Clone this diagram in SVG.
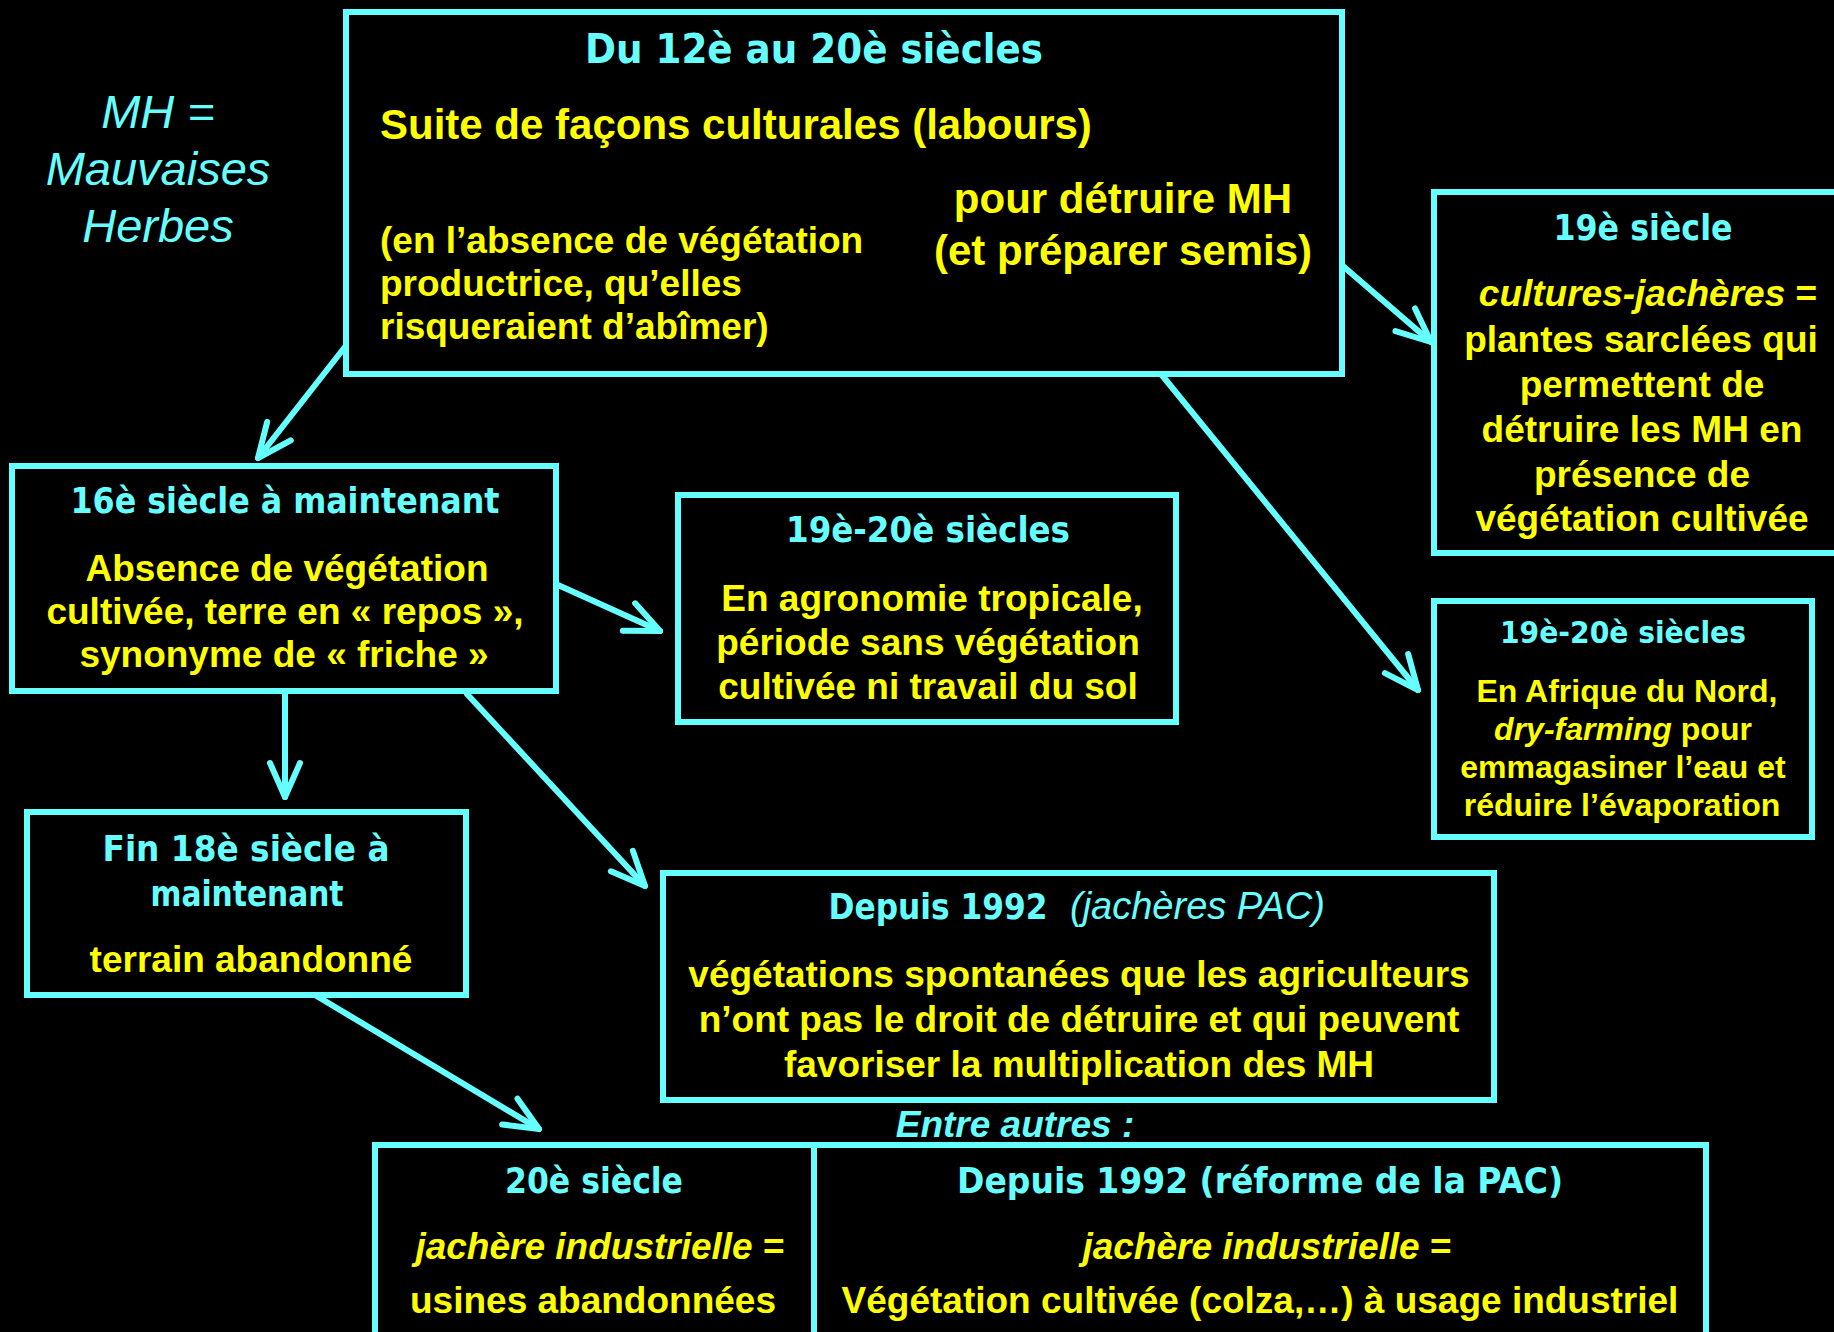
<svg xmlns="http://www.w3.org/2000/svg" width="1834" height="1332" viewBox="0 0 1834 1332">
<defs>
<style>
.box{fill:#000;stroke:#66FFFF;stroke-width:6}
.t{font-family:"DejaVu Sans Condensed","DejaVu Sans",sans-serif;font-weight:bold;fill:#66FFFF;text-anchor:middle}
.y{font-family:"Liberation Sans",Arial,sans-serif;font-weight:bold;fill:#FFFF00}
.c{text-anchor:middle}
.i{font-style:italic}
.cy{font-family:"Liberation Sans",Arial,sans-serif;fill:#66FFFF}
.con{stroke:#66FFFF;stroke-width:6;fill:none;stroke-linecap:round}
</style>
<marker id="ah" markerUnits="userSpaceOnUse" orient="auto" refX="0" refY="0" markerWidth="60" markerHeight="60" overflow="visible">
<path d="M -34 -15 L 0 0 L -34 15" fill="none" stroke="#66FFFF" stroke-width="6" stroke-linecap="round" stroke-linejoin="round"/>
</marker>
</defs>
<rect x="0" y="0" width="1834" height="1332" fill="#000"/>

<g id="legend">
<text class="cy i" font-size="47" text-anchor="middle" x="158" y="128">MH =</text>
<text class="cy i" font-size="47" text-anchor="middle" x="158" y="185">Mauvaises</text>
<text class="cy i" font-size="47" text-anchor="middle" x="158" y="242">Herbes</text>
</g>

<g id="connectors">
<line class="con" x1="359" y1="329" x2="258" y2="458" marker-end="url(#ah)"/>
<line class="con" x1="1329" y1="254" x2="1431" y2="342" marker-end="url(#ah)"/>
<line class="con" x1="1161" y1="374" x2="1418" y2="690" marker-end="url(#ah)"/>
<line class="con" x1="558" y1="585" x2="660" y2="631" marker-end="url(#ah)"/>
<line class="con" x1="285" y1="694" x2="285" y2="797" marker-end="url(#ah)"/>
<line class="con" x1="467" y1="694" x2="645" y2="886" marker-end="url(#ah)"/>
<line class="con" x1="315" y1="995" x2="539" y2="1129" marker-end="url(#ah)"/>
</g>

<g id="main">
<rect class="box" x="346" y="12" width="996" height="362"/>
<text class="t" font-size="40" x="814" y="63" textLength="458" lengthAdjust="spacingAndGlyphs">Du 12è au 20è siècles</text>
<text class="y" font-size="42" x="380" y="139">Suite de façons culturales (labours)</text>
<text class="y c" font-size="42" x="1123" y="213">pour détruire MH</text>
<text class="y c" font-size="42" x="1123" y="265">(et préparer semis)</text>
<text class="y" font-size="37" x="380" y="253">(en l’absence de végétation</text>
<text class="y" font-size="37" x="380" y="296">productrice, qu’elles</text>
<text class="y" font-size="37" x="380" y="339">risqueraient d’abîmer)</text>
</g>

<g id="n16">
<rect class="box" x="12" y="466" width="544" height="225"/>
<text class="t" font-size="36" x="285" y="513" textLength="429" lengthAdjust="spacingAndGlyphs">16è siècle à maintenant</text>
<text class="y c" font-size="37" x="287" y="581">Absence de végétation</text>
<text class="y c" font-size="37" x="285" y="624">cultivée, terre en « repos »,</text>
<text class="y c" font-size="37" x="284" y="667">synonyme de « friche »</text>
</g>

<g id="agro">
<rect class="box" x="678" y="495" width="498" height="227"/>
<text class="t" font-size="36" x="928" y="542" textLength="284" lengthAdjust="spacingAndGlyphs">19è-20è siècles</text>
<text class="y c" font-size="37" x="932" y="611">En agronomie tropicale,</text>
<text class="y c" font-size="37" x="928" y="655">période sans végétation</text>
<text class="y c" font-size="37" x="928" y="699">cultivée ni travail du sol</text>
</g>

<g id="n19">
<rect class="box" x="1434" y="192" width="420" height="361"/>
<text class="t" font-size="36" x="1643" y="240" textLength="179" lengthAdjust="spacingAndGlyphs">19è siècle</text>
<text class="y c" font-size="37" x="1648" y="306"><tspan class="i">cultures-jachères</tspan> =</text>
<text class="y c" font-size="37" x="1641" y="352">plantes sarclées qui</text>
<text class="y c" font-size="37" x="1642" y="397">permettent de</text>
<text class="y c" font-size="37" x="1642" y="442">détruire les MH en</text>
<text class="y c" font-size="37" x="1642" y="487">présence de</text>
<text class="y c" font-size="37" x="1642" y="531">végétation cultivée</text>
</g>

<g id="afrique">
<rect class="box" x="1434" y="601" width="378" height="236"/>
<text class="t" font-size="31" x="1623" y="643" textLength="246" lengthAdjust="spacingAndGlyphs">19è-20è siècles</text>
<text class="y c" font-size="32" x="1627" y="702">En Afrique du Nord,</text>
<text class="y c" font-size="32" x="1623" y="740"><tspan class="i">dry-farming</tspan> pour</text>
<text class="y c" font-size="32" x="1623" y="778">emmagasiner l’eau et</text>
<text class="y c" font-size="32" x="1622" y="816">réduire l’évaporation</text>
</g>

<g id="fin18">
<rect class="box" x="27" y="812" width="439" height="183"/>
<text class="t" font-size="36" x="246" y="861" textLength="287" lengthAdjust="spacingAndGlyphs">Fin 18è siècle à</text>
<text class="t" font-size="36" x="247" y="906" textLength="193" lengthAdjust="spacingAndGlyphs">maintenant</text>
<text class="y c" font-size="37" x="251" y="972">terrain abandonné</text>
</g>

<g id="pac">
<rect class="box" x="663" y="873" width="831" height="227"/>
<text class="t" font-size="36" x="938" y="919" textLength="219" lengthAdjust="spacingAndGlyphs">Depuis 1992</text>
<text class="cy i" font-size="38" x="1070" y="919">(jachères PAC)</text>
<text class="y c" font-size="37" x="1079" y="987">végétations spontanées que les agriculteurs</text>
<text class="y c" font-size="37" x="1079" y="1032">n’ont pas le droit de détruire et qui peuvent</text>
<text class="y c" font-size="37" x="1079" y="1077">favoriser la multiplication des MH</text>
</g>

<g id="entre">
<text class="cy i" font-size="37" font-weight="bold" text-anchor="middle" x="1015" y="1137">Entre autres :</text>
</g>

<g id="ind20">
<rect class="box" x="375" y="1145" width="439" height="200"/>
<text class="t" font-size="36" x="594" y="1193" textLength="178" lengthAdjust="spacingAndGlyphs">20è siècle</text>
<text class="y c" font-size="37" x="600" y="1259"><tspan class="i">jachère industrielle</tspan> =</text>
<text class="y c" font-size="37" x="593" y="1313">usines abandonnées</text>
</g>

<g id="ind1992">
<rect class="box" x="814" y="1145" width="892" height="200"/>
<text class="t" font-size="36" x="1260" y="1193" textLength="606" lengthAdjust="spacingAndGlyphs">Depuis 1992 (réforme de la PAC)</text>
<text class="y c" font-size="37" x="1267" y="1259"><tspan class="i">jachère industrielle</tspan> =</text>
<text class="y c" font-size="37" x="1260" y="1313">Végétation cultivée (colza,…) à usage industriel</text>
</g>
</svg>
